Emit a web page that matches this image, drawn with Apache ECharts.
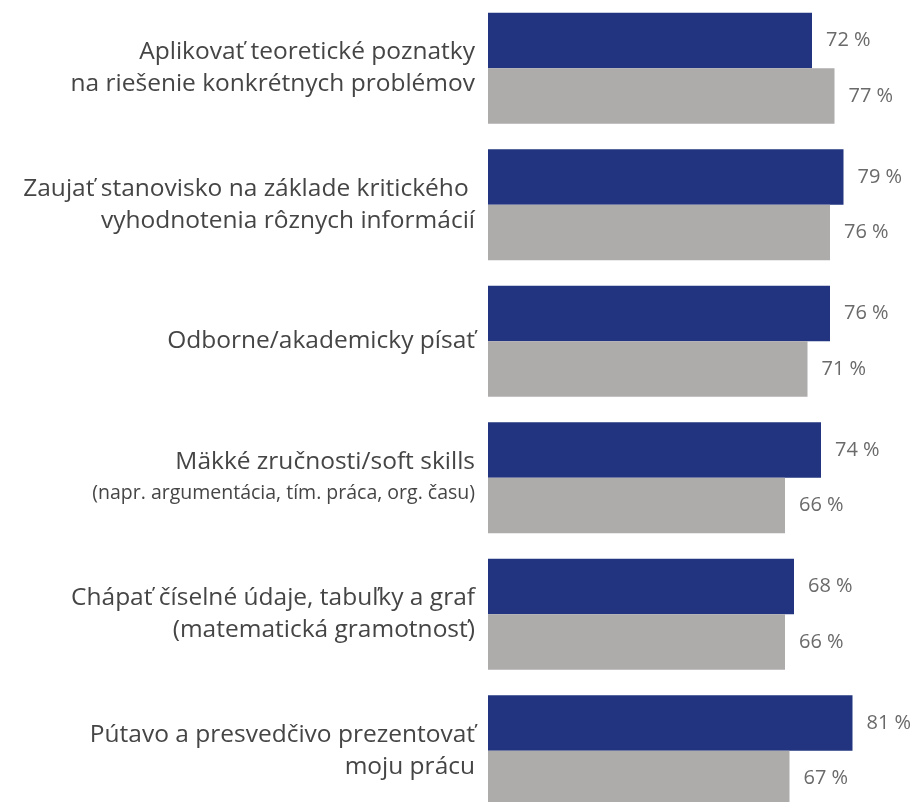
<!DOCTYPE html>
<html>
<head>
<meta charset="utf-8">
<script src="https://cdn.jsdelivr.net/npm/echarts@6/dist/echarts.min.js"></script>
<style>
html,body{margin:0;padding:0;background:#fff;}
#chart{width:922px;height:802px;}
</style>
</head>
<body>
<div id="chart"></div>
<script>
const categories = [
  "Aplikovať teoretické poznatky\nna riešenie konkrétnych problémov",
  "Zaujať stanovisko na základe kritického \nvyhodnotenia rôznych informácií",
  "Odborne/akademicky písať",
  "Mäkké zručnosti/soft skills\n{s|(napr. argumentácia, tím. práca, org. času)}",
  "Chápať číselné údaje, tabuľky a graf\n(matematická gramotnosť)",
  "Pútavo a presvedčivo prezentovať\nmoju prácu"
];
const seriesA = [72, 79, 76, 74, 68, 81];
const seriesB = [77, 76, 71, 66, 66, 67];

const chart = echarts.init(document.getElementById('chart'));
const FONT = '"Open Sans", sans-serif';
const valLabel = {
  show: true, position: 'right', distance: 14,
  formatter: p => p.value + ' %',
  color: '#6a6a6a', fontSize: 20, fontFamily: FONT
};
chart.setOption({
  backgroundColor: '#ffffff',
  animation: false,
  grid: { left: 488, top: 0, right: 2, bottom: -17, containLabel: false, outerBoundsMode: 'none' },
  xAxis: { type: 'value', min: 0, max: 96, show: false },
  yAxis: {
    type: 'category', data: categories, inverse: true,
    axisLine: { show: false }, axisTick: { show: false }, splitLine: { show: false },
    axisLabel: {
      margin: 13, align: 'right', color: '#454545', fontSize: 24.5,
      fontFamily: FONT, lineHeight: 32,
      rich: { s: { fontSize: 19.5, color: '#454545', fontFamily: FONT, lineHeight: 32 } }
    }
  },
  series: [
    { type: 'bar', data: seriesA, barWidth: 55.5, barGap: '0%',
      itemStyle: { color: '#22347f' }, label: valLabel },
    { type: 'bar', data: seriesB, barWidth: 55.5, barGap: '0%',
      itemStyle: { color: '#aeabab' }, label: valLabel }
  ]
});
</script>
</body>
</html>
